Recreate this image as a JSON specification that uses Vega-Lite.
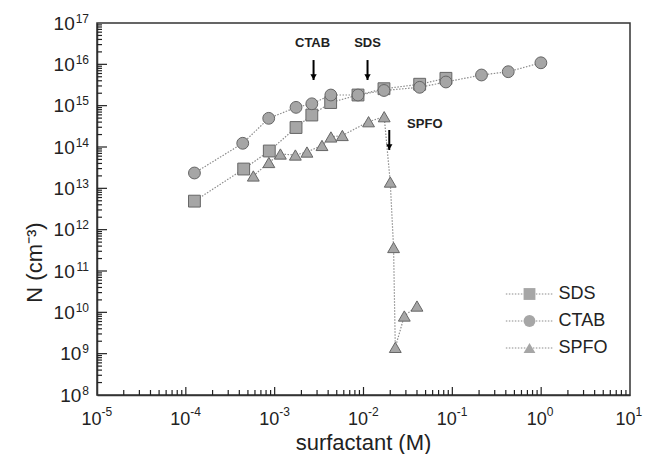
{
  "$schema": "https://vega.github.io/schema/vega-lite/v6.json",
  "width": 533,
  "height": 372,
  "autosize": {"type": "none"},
  "padding": {"left": 97, "top": 23, "right": 16, "bottom": 59},
  "background": "white",
  "config": {
    "font": "Liberation Sans",
    "view": {"stroke": "#333333", "strokeWidth": 1.5},
    "axis": {
      "domainColor": "#333333",
      "domainWidth": 1.5,
      "labelFont": "Liberation Sans",
      "labelColor": "#222222",
      "titleFont": "Liberation Sans",
      "titleFontWeight": "normal",
      "titleColor": "#222222",
      "grid": false,
      "labelOverlap": false,
      "labelBound": false,
      "labelFlush": false
    }
  },
  "resolve": {"axis": {"x": "independent", "y": "independent"}},
  "datasets": {
    "pts": [
      {"s": "SDS", "i": 1, "x": 1.25e-4, "y": 4.9e12},
      {"s": "SDS", "i": 2, "x": 4.48e-4, "y": 2.93e13},
      {"s": "SDS", "i": 3, "x": 8.7e-4, "y": 8.0e13},
      {"s": "SDS", "i": 4, "x": 1.74e-3, "y": 2.96e14},
      {"s": "SDS", "i": 5, "x": 2.62e-3, "y": 5.94e14},
      {"s": "SDS", "i": 6, "x": 4.27e-3, "y": 1.19e15},
      {"s": "SDS", "i": 7, "x": 8.67e-3, "y": 1.81e15},
      {"s": "SDS", "i": 8, "x": 1.7e-2, "y": 2.57e15},
      {"s": "SDS", "i": 9, "x": 4.29e-2, "y": 3.3e15},
      {"s": "SDS", "i": 10, "x": 8.47e-2, "y": 4.59e15},
      {"s": "CTAB", "i": 1, "x": 1.25e-4, "y": 2.35e13},
      {"s": "CTAB", "i": 2, "x": 4.37e-4, "y": 1.23e14},
      {"s": "CTAB", "i": 3, "x": 8.57e-4, "y": 4.94e14},
      {"s": "CTAB", "i": 4, "x": 1.74e-3, "y": 9.1e14},
      {"s": "CTAB", "i": 5, "x": 2.62e-3, "y": 1.11e15},
      {"s": "CTAB", "i": 6, "x": 4.29e-3, "y": 1.81e15},
      {"s": "CTAB", "i": 7, "x": 8.67e-3, "y": 1.81e15},
      {"s": "CTAB", "i": 8, "x": 1.7e-2, "y": 2.33e15},
      {"s": "CTAB", "i": 9, "x": 4.29e-2, "y": 2.78e15},
      {"s": "CTAB", "i": 10, "x": 8.47e-2, "y": 3.74e15},
      {"s": "CTAB", "i": 11, "x": 0.213, "y": 5.52e15},
      {"s": "CTAB", "i": 12, "x": 0.426, "y": 6.63e15},
      {"s": "CTAB", "i": 13, "x": 0.993, "y": 1.09e16},
      {"s": "SPFO", "i": 1, "x": 5.75e-4, "y": 1.99e13},
      {"s": "SPFO", "i": 2, "x": 8.61e-4, "y": 4.22e13},
      {"s": "SPFO", "i": 3, "x": 1.16e-3, "y": 6.77e13},
      {"s": "SPFO", "i": 4, "x": 1.71e-3, "y": 6.4e13},
      {"s": "SPFO", "i": 5, "x": 2.31e-3, "y": 7.56e13},
      {"s": "SPFO", "i": 6, "x": 3.41e-3, "y": 1.09e14},
      {"s": "SPFO", "i": 7, "x": 4.3e-3, "y": 1.75e14},
      {"s": "SPFO", "i": 8, "x": 5.78e-3, "y": 1.9e14},
      {"s": "SPFO", "i": 9, "x": 1.14e-2, "y": 4.09e14},
      {"s": "SPFO", "i": 10, "x": 1.71e-2, "y": 5.41e14},
      {"s": "SPFO", "i": 11, "x": 2.0e-2, "y": 1.42e13},
      {"s": "SPFO", "i": 12, "x": 2.18e-2, "y": 3.7e11},
      {"s": "SPFO", "i": 13, "x": 2.28e-2, "y": 1.42e9},
      {"s": "SPFO", "i": 14, "x": 2.88e-2, "y": 8.15e9},
      {"s": "SPFO", "i": 15, "x": 4.0e-2, "y": 1.42e10}
    ],
    "arr": [
      {"n": "CTAB", "x": 2.74e-3, "y1": 1.27e16, "y2": 4.18e15},
      {"n": "SDS", "x": 1.11e-2, "y1": 1.27e16, "y2": 4.18e15},
      {"n": "SPFO", "x": 1.95e-2, "y1": 2.58e14, "y2": 8.46e13}
    ],
    "ann": [
      {"t": "CTAB", "x": 2.67e-3, "y": 3.2e16},
      {"t": "SDS", "x": 1.11e-2, "y": 3.2e16},
      {"t": "SPFO", "x": 4.9e-2, "y": 3.6e14}
    ],
    "xminor": [
      {"v": 2e-5}, {"v": 3e-5}, {"v": 4e-5}, {"v": 5e-5}, {"v": 6e-5}, {"v": 7e-5}, {"v": 8e-5}, {"v": 9e-5},
      {"v": 2e-4}, {"v": 3e-4}, {"v": 4e-4}, {"v": 5e-4}, {"v": 6e-4}, {"v": 7e-4}, {"v": 8e-4}, {"v": 9e-4},
      {"v": 2e-3}, {"v": 3e-3}, {"v": 4e-3}, {"v": 5e-3}, {"v": 6e-3}, {"v": 7e-3}, {"v": 8e-3}, {"v": 9e-3},
      {"v": 2e-2}, {"v": 3e-2}, {"v": 4e-2}, {"v": 5e-2}, {"v": 6e-2}, {"v": 7e-2}, {"v": 8e-2}, {"v": 9e-2},
      {"v": 0.2}, {"v": 0.3}, {"v": 0.4}, {"v": 0.5}, {"v": 0.6}, {"v": 0.7}, {"v": 0.8}, {"v": 0.9},
      {"v": 2}, {"v": 3}, {"v": 4}, {"v": 5}, {"v": 6}, {"v": 7}, {"v": 8}, {"v": 9}
    ],
    "xmajor": [
      {"v": 1e-4}, {"v": 1e-3}, {"v": 1e-2}, {"v": 0.1}, {"v": 1}
    ],
    "yminor": [
      {"v": 2e8}, {"v": 3e8}, {"v": 4e8}, {"v": 5e8}, {"v": 6e8}, {"v": 7e8}, {"v": 8e8}, {"v": 9e8},
      {"v": 2e9}, {"v": 3e9}, {"v": 4e9}, {"v": 5e9}, {"v": 6e9}, {"v": 7e9}, {"v": 8e9}, {"v": 9e9},
      {"v": 2e10}, {"v": 3e10}, {"v": 4e10}, {"v": 5e10}, {"v": 6e10}, {"v": 7e10}, {"v": 8e10}, {"v": 9e10},
      {"v": 2e11}, {"v": 3e11}, {"v": 4e11}, {"v": 5e11}, {"v": 6e11}, {"v": 7e11}, {"v": 8e11}, {"v": 9e11},
      {"v": 2e12}, {"v": 3e12}, {"v": 4e12}, {"v": 5e12}, {"v": 6e12}, {"v": 7e12}, {"v": 8e12}, {"v": 9e12},
      {"v": 2e13}, {"v": 3e13}, {"v": 4e13}, {"v": 5e13}, {"v": 6e13}, {"v": 7e13}, {"v": 8e13}, {"v": 9e13},
      {"v": 2e14}, {"v": 3e14}, {"v": 4e14}, {"v": 5e14}, {"v": 6e14}, {"v": 7e14}, {"v": 8e14}, {"v": 9e14},
      {"v": 2e15}, {"v": 3e15}, {"v": 4e15}, {"v": 5e15}, {"v": 6e15}, {"v": 7e15}, {"v": 8e15}, {"v": 9e15},
      {"v": 2e16}, {"v": 3e16}, {"v": 4e16}, {"v": 5e16}, {"v": 6e16}, {"v": 7e16}, {"v": 8e16}, {"v": 9e16}
    ],
    "ymajor": [
      {"v": 1e9}, {"v": 1e10}, {"v": 1e11}, {"v": 1e12}, {"v": 1e13}, {"v": 1e14}, {"v": 1e15}, {"v": 1e16}
    ]
  },
  "layer": [
    {
      "data": {"name": "xminor"},
      "mark": {"type": "tick", "orient": "vertical", "size": 5, "thickness": 1.2, "color": "#222222", "opacity": 1, "yOffset": -2.5},
      "encoding": {
        "x": {"field": "v", "type": "quantitative", "scale": {"type": "log", "domain": [1e-5, 10], "nice": false}, "axis": null},
        "y": {"datum": 1e8, "type": "quantitative", "scale": {"type": "log", "domain": [1e8, 1e17], "nice": false}, "axis": null}
      }
    },
    {
      "data": {"name": "xmajor"},
      "mark": {"type": "tick", "orient": "vertical", "size": 8, "thickness": 1.2, "color": "#222222", "opacity": 1, "yOffset": -4},
      "encoding": {
        "x": {"field": "v", "type": "quantitative", "scale": {"type": "log", "domain": [1e-5, 10], "nice": false}, "axis": null},
        "y": {"datum": 1e8, "type": "quantitative", "scale": {"type": "log", "domain": [1e8, 1e17], "nice": false}, "axis": null}
      }
    },
    {
      "data": {"name": "yminor"},
      "mark": {"type": "rule", "strokeWidth": 1.2, "color": "#222222", "opacity": 1},
      "encoding": {
        "x": {"datum": 1e-5, "type": "quantitative", "scale": {"type": "log", "domain": [1e-5, 10], "nice": false}, "axis": null},
        "x2": {"datum": 1.138e-5},
        "y": {"field": "v", "type": "quantitative", "scale": {"type": "log", "domain": [1e8, 1e17], "nice": false}, "axis": null}
      }
    },
    {
      "data": {"name": "ymajor"},
      "mark": {"type": "rule", "strokeWidth": 1.2, "color": "#222222", "opacity": 1},
      "encoding": {
        "x": {"datum": 1e-5, "type": "quantitative", "scale": {"type": "log", "domain": [1e-5, 10], "nice": false}, "axis": null},
        "x2": {"datum": 1.296e-5},
        "y": {"field": "v", "type": "quantitative", "scale": {"type": "log", "domain": [1e8, 1e17], "nice": false}, "axis": null}
      }
    },
    {
      "data": {"name": "pts"},
      "mark": {"type": "line", "color": "#8c8c8c", "strokeWidth": 1.2, "strokeDash": [1.5, 1.5]},
      "encoding": {
        "x": {"field": "x", "type": "quantitative", "scale": {"type": "log", "domain": [1e-5, 10], "nice": false}, "axis": null},
        "y": {"field": "y", "type": "quantitative", "scale": {"type": "log", "domain": [1e8, 1e17], "nice": false}, "axis": null},
        "strokeDash": {
          "field": "s", "type": "nominal",
          "scale": {"range": [[1.5, 1.5], [1.5, 1.5], [1.5, 1.5]]},
          "legend": {
            "title": null,
            "orient": "none",
            "legendX": 423.5,
            "legendY": 262,
            "padding": 0,
            "labelExpr": "''",
            "labelFontSize": 18,
            "labelOffset": 20,
            "rowPadding": 9,
            "symbolType": "M-4,0H4",
            "symbolSize": 140,
            "symbolFillColor": "transparent",
            "symbolStrokeColor": "#8c8c8c",
            "symbolStrokeWidth": 1.2,
            "symbolDash": [1.5, 1.5]
          }
        },
        "order": {"field": "i", "type": "quantitative"}
      }
    },
    {
      "data": {"name": "pts"},
      "mark": {"type": "point", "filled": true, "fill": "#a6a6a6", "stroke": "#666666", "strokeWidth": 1, "size": 140, "opacity": 1},
      "encoding": {
        "x": {
          "field": "x", "type": "quantitative",
          "scale": {"type": "log", "domain": [1e-5, 10], "nice": false},
          "axis": {
            "orient": "bottom",
            "values": [1e-5, 1e-4, 1e-3, 1e-2, 0.1, 1, 10],
            "domain": true,
            "ticks": false,
            "tickSize": 0,
            "labelExpr": "'10'",
            "labelFontSize": 18,
            "labelAlign": "center",
            "labelBaseline": "top",
            "labelPadding": 15.5,
            "labelOffset": {"condition": {"test": "datum.value < 0.9", "value": -6}, "value": -5},
            "title": "surfactant (M)",
            "titleFontSize": 22,
            "titleX": 266,
            "titleY": 54,
            "titleAlign": "center",
            "titleBaseline": "alphabetic"
          }
        },
        "y": {
          "field": "y", "type": "quantitative",
          "scale": {"type": "log", "domain": [1e8, 1e17], "nice": false},
          "axis": {
            "orient": "left",
            "values": [1e8, 1e9, 1e10, 1e11, 1e12, 1e13, 1e14, 1e15, 1e16, 1e17],
            "domain": true,
            "ticks": false,
            "tickSize": 0,
            "labelExpr": "'10'",
            "labelFontSize": 19,
            "labelAlign": "right",
            "labelBaseline": "middle",
            "labelPadding": {"condition": {"test": "datum.value > 5e9", "value": 22.8}, "value": 16.2},
            "title": "N (cm⁻³)",
            "titleFontSize": 22,
            "titleAngle": -90,
            "titleX": -63,
            "titleY": 239,
            "titleAlign": "center",
            "titleBaseline": "middle"
          }
        },
        "shape": {
          "field": "s", "type": "nominal",
          "scale": {"domain": ["SDS", "CTAB", "SPFO"], "range": ["square", "circle", "triangle-up"]},
          "legend": {
            "title": null,
            "orient": "none",
            "legendX": 423.5,
            "legendY": 262,
            "padding": 0,
            "labelFont": "Liberation Sans",
            "labelFontSize": 18,
            "labelColor": "#222222",
            "labelOffset": 20,
            "rowPadding": 9,
            "symbolSize": 140,
            "symbolFillColor": "#a6a6a6",
            "symbolStrokeColor": "#666666",
            "symbolStrokeWidth": 1
          }
        }
      }
    },
    {
      "data": {"name": "arr"},
      "mark": {"type": "rule", "color": "black", "strokeWidth": 2},
      "encoding": {
        "x": {
          "field": "x", "type": "quantitative",
          "scale": {"type": "log", "domain": [1e-5, 10], "nice": false},
          "axis": {
            "orient": "bottom",
            "values": [1e-5, 1e-4, 1e-3, 1e-2, 0.1, 1, 10],
            "domain": false,
            "ticks": false,
            "tickSize": 0,
            "labelExpr": "'' + round(log(datum.value)/LN10)",
            "labelFontSize": 12,
            "labelAlign": "left",
            "labelBaseline": "top",
            "labelPadding": 11.5,
            "labelOffset": {"condition": {"test": "datum.value < 0.9", "value": 4}, "value": 5},
            "title": null
          }
        },
        "y": {
          "field": "y1", "type": "quantitative",
          "scale": {"type": "log", "domain": [1e8, 1e17], "nice": false},
          "axis": {
            "orient": "left",
            "values": [1e8, 1e9, 1e10, 1e11, 1e12, 1e13, 1e14, 1e15, 1e16, 1e17],
            "domain": false,
            "ticks": false,
            "tickSize": 0,
            "labelExpr": "'' + round(log(datum.value)/LN10)",
            "labelFontSize": 12,
            "labelAlign": "right",
            "labelBaseline": "middle",
            "labelPadding": 8.5,
            "labelOffset": -5,
            "title": null
          }
        },
        "y2": {"field": "y2"}
      }
    },
    {
      "data": {"name": "arr"},
      "mark": {"type": "point", "shape": "triangle-down", "filled": true, "color": "black", "size": 40, "opacity": 1, "yOffset": -3},
      "encoding": {
        "x": {"field": "x", "type": "quantitative", "scale": {"type": "log", "domain": [1e-5, 10], "nice": false}, "axis": null},
        "y": {"field": "y2", "type": "quantitative", "scale": {"type": "log", "domain": [1e8, 1e17], "nice": false}, "axis": null}
      }
    },
    {
      "data": {"name": "ann"},
      "mark": {"type": "text", "font": "Liberation Sans", "fontSize": 13, "fontWeight": "bold", "color": "#222222", "align": "center", "baseline": "middle"},
      "encoding": {
        "x": {"field": "x", "type": "quantitative", "scale": {"type": "log", "domain": [1e-5, 10], "nice": false}, "axis": null},
        "y": {"field": "y", "type": "quantitative", "scale": {"type": "log", "domain": [1e8, 1e17], "nice": false}, "axis": null},
        "text": {"field": "t"}
      }
    }
  ]
}
